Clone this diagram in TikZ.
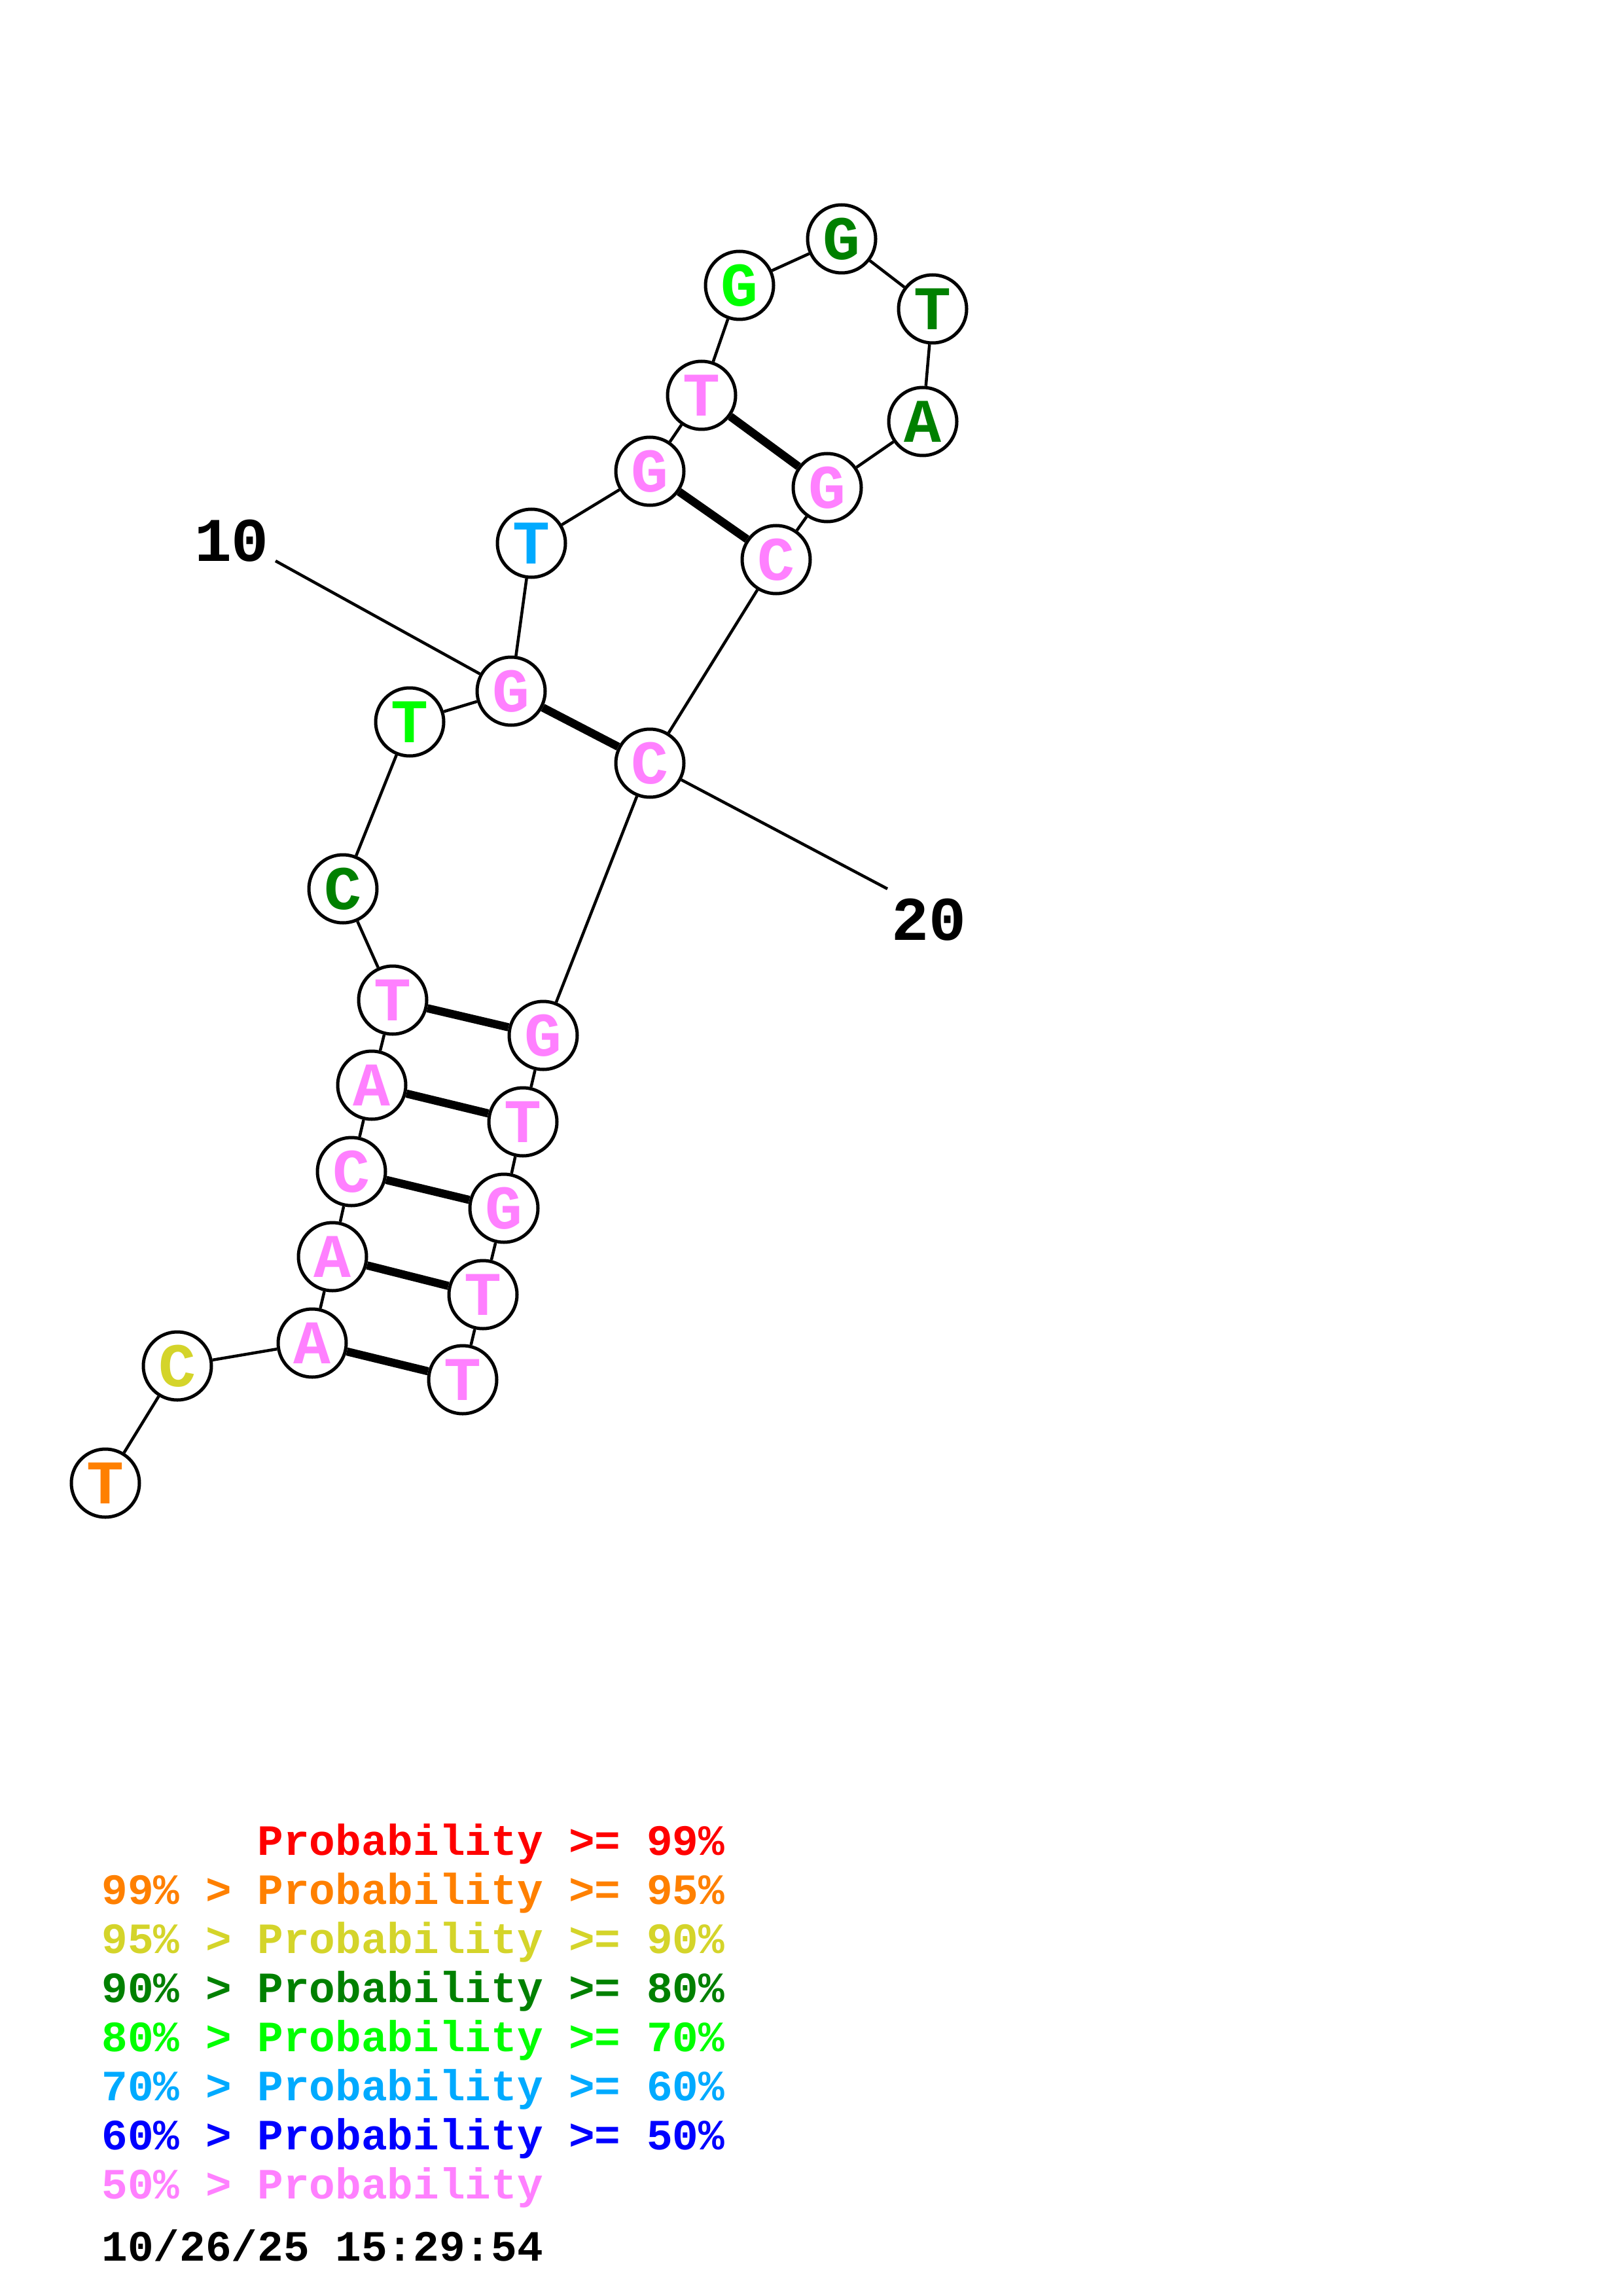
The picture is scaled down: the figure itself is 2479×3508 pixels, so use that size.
\documentclass[tikz,border=0pt]{standalone}
\usepackage{fontspec}
\setmonofont{Liberation Mono}
\definecolor{cpink}{RGB}{255,128,255}
\definecolor{cdg}{RGB}{0,128,0}
\definecolor{clg}{RGB}{0,255,0}
\definecolor{clb}{RGB}{0,170,255}
\definecolor{cbl}{RGB}{0,0,255}
\definecolor{cyel}{RGB}{212,212,42}
\definecolor{corg}{RGB}{255,128,0}
\definecolor{cred}{RGB}{255,0,0}
\tikzset{
  base/.style={circle, draw, line width=0.5mm, fill=white, minimum size=10.4mm, inner sep=0pt,
    font=\ttfamily\bfseries\fontsize{27}{27}\selectfont},
  bb/.style={line width=0.45mm},
  pair/.style={line width=1.25mm},
  lab/.style={font=\ttfamily\bfseries\fontsize{27}{27}\selectfont, inner sep=0pt},
  leg/.style={font=\ttfamily\bfseries\fontsize{18.8}{18.8}\selectfont, inner sep=0pt, anchor=base west}
}
\begin{document}
\begin{tikzpicture}[x=0.1mm,y=-0.1mm]
\useasboundingbox (0,0) rectangle (2479,3508);
\node[base,text=corg]  (n1)  at (161,2266) {T};
\node[base,text=cyel]  (n2)  at (271,2087) {C};
\node[base,text=cpink] (n3)  at (477,2052) {A};
\node[base,text=cpink] (n4)  at (508,1920) {A};
\node[base,text=cpink] (n5)  at (537,1790) {C};
\node[base,text=cpink] (n6)  at (568,1658) {A};
\node[base,text=cpink] (n7)  at (600,1528) {T};
\node[base,text=cdg]   (n8)  at (524,1358) {C};
\node[base,text=clg]   (n9)  at (626,1103) {T};
\node[base,text=cpink] (n10) at (781,1056) {G};
\node[base,text=clb]   (n11) at (812,830) {T};
\node[base,text=cpink] (n12) at (993,720) {G};
\node[base,text=cpink] (n13) at (1072,604) {T};
\node[base,text=clg]   (n14) at (1130,436) {G};
\node[base,text=cdg]   (n15) at (1286,365) {G};
\node[base,text=cdg]   (n16) at (1425,472) {T};
\node[base,text=cdg]   (n17) at (1410,644) {A};
\node[base,text=cpink] (n18) at (1264,745) {G};
\node[base,text=cpink] (n19) at (1186,855) {C};
\node[base,text=cpink] (n20) at (993,1166) {C};
\node[base,text=cpink] (n21) at (830,1582) {G};
\node[base,text=cpink] (n22) at (799,1714) {T};
\node[base,text=cpink] (n23) at (770,1846) {G};
\node[base,text=cpink] (n24) at (738,1978) {T};
\node[base,text=cpink] (n25) at (707,2108) {T};
\foreach \a/\b in {1/2,2/3,3/4,4/5,5/6,6/7,7/8,8/9,9/10,10/11,11/12,12/13,13/14,14/15,15/16,16/17,17/18,18/19,19/20,20/21,21/22,22/23,23/24,24/25}
  \draw[bb] (n\a) -- (n\b);
\foreach \a/\b in {3/25,4/24,5/23,6/22,7/21,10/20,12/19,13/18}
  \draw[pair] (n\a) -- (n\b);
\node[lab] (t10) at (354,826) {10};
\coordinate (c10) at (421,857);
\draw[bb] (c10) -- (n10);
\node[lab] (t20) at (1419,1405) {20};
\coordinate (c20) at (1356,1358);
\draw[bb] (n20) -- (c20);
\node[leg,text=cred]  (g1) at (155,2834) {\phantom{99\% > }Probability >= 99\%};
\node[leg,text=corg]  (g2) at (155,2909) {99\% > Probability >= 95\%};
\node[leg,text=cyel]  (g3) at (155,2984) {95\% > Probability >= 90\%};
\node[leg,text=cdg]   (g4) at (155,3059) {90\% > Probability >= 80\%};
\node[leg,text=clg]   (g5) at (155,3134) {80\% > Probability >= 70\%};
\node[leg,text=clb]   (g6) at (155,3209) {70\% > Probability >= 60\%};
\node[leg,text=cbl]   (g7) at (155,3284) {60\% > Probability >= 50\%};
\node[leg,text=cpink] (g8) at (155,3359) {50\% > Probability};
\node[leg,text=black] (g9) at (155,3454) {10/26/25 15:29:54};
\end{tikzpicture}
\end{document}
